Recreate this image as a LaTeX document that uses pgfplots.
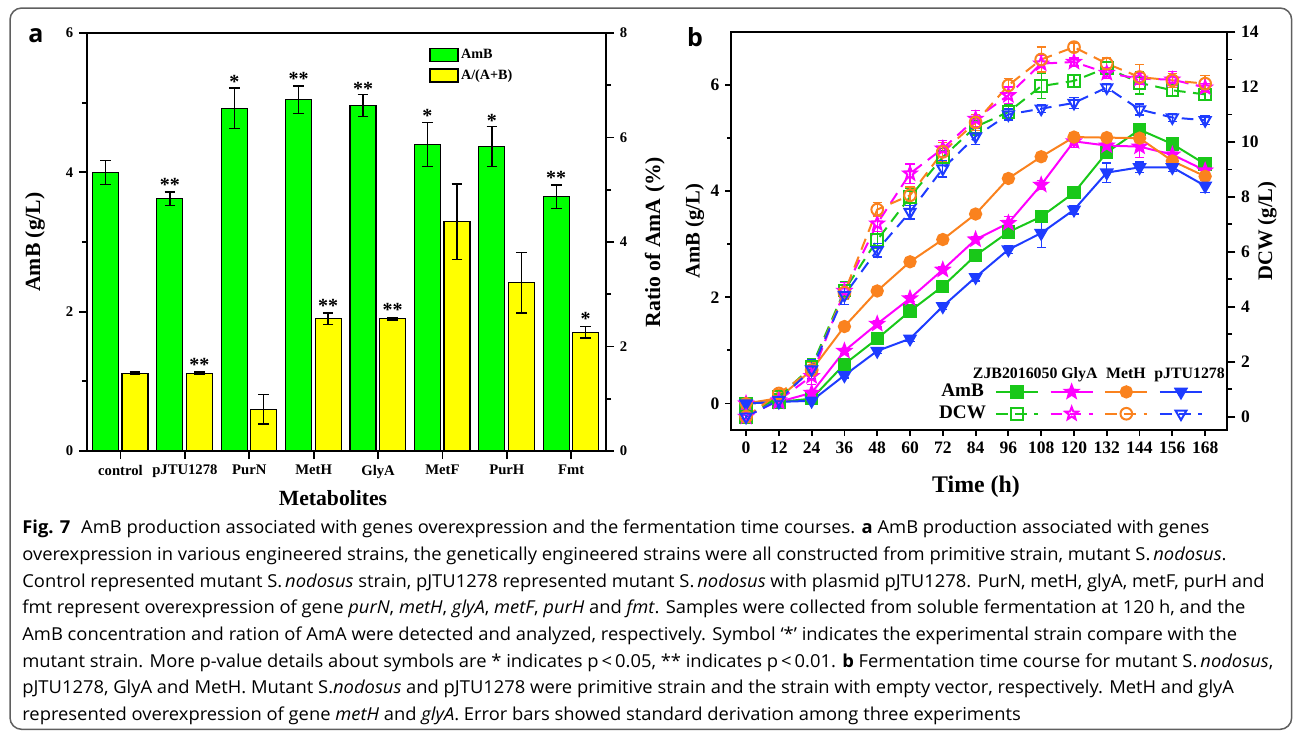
\documentclass[border=0pt]{standalone}
\usepackage{fontspec}
\setmainfont{Liberation Serif}
\newfontfamily\capfont[FakeStretch=1.03]{Open Sans}
\newfontfamily\lblfont{Open Sans}
\usepackage{pgfplots}
\pgfplotsset{compat=1.18}
\usetikzlibrary{plotmarks}

\definecolor{barG}{RGB}{0,255,0}
\definecolor{barY}{RGB}{255,255,0}
\definecolor{cG}{RGB}{25,200,25}
\definecolor{cM}{RGB}{255,0,255}
\definecolor{cO}{RGB}{250,130,30}
\definecolor{cB}{RGB}{30,60,255}
\definecolor{frameC}{RGB}{95,95,95}

\newcommand{\fsz}[1]{\fontsize{#1}{#1}\selectfont}
\newcommand{\Sn}{S.\,\textit{nodosus}}

% filled and open five-pointed stars
\pgfdeclareplotmark{fstar}{%
  \pgfpathmoveto{\pgfqpointpolar{90}{\pgfplotmarksize}}%
  \pgfpathlineto{\pgfqpointpolar{126}{0.42\pgfplotmarksize}}%
  \pgfpathlineto{\pgfqpointpolar{162}{\pgfplotmarksize}}%
  \pgfpathlineto{\pgfqpointpolar{198}{0.42\pgfplotmarksize}}%
  \pgfpathlineto{\pgfqpointpolar{234}{\pgfplotmarksize}}%
  \pgfpathlineto{\pgfqpointpolar{270}{0.42\pgfplotmarksize}}%
  \pgfpathlineto{\pgfqpointpolar{306}{\pgfplotmarksize}}%
  \pgfpathlineto{\pgfqpointpolar{342}{0.42\pgfplotmarksize}}%
  \pgfpathlineto{\pgfqpointpolar{18}{\pgfplotmarksize}}%
  \pgfpathlineto{\pgfqpointpolar{54}{0.42\pgfplotmarksize}}%
  \pgfpathclose\pgfusepathqfillstroke}
\pgfdeclareplotmark{ostar}{%
  \pgfpathmoveto{\pgfqpointpolar{90}{\pgfplotmarksize}}%
  \pgfpathlineto{\pgfqpointpolar{126}{0.42\pgfplotmarksize}}%
  \pgfpathlineto{\pgfqpointpolar{162}{\pgfplotmarksize}}%
  \pgfpathlineto{\pgfqpointpolar{198}{0.42\pgfplotmarksize}}%
  \pgfpathlineto{\pgfqpointpolar{234}{\pgfplotmarksize}}%
  \pgfpathlineto{\pgfqpointpolar{270}{0.42\pgfplotmarksize}}%
  \pgfpathlineto{\pgfqpointpolar{306}{\pgfplotmarksize}}%
  \pgfpathlineto{\pgfqpointpolar{342}{0.42\pgfplotmarksize}}%
  \pgfpathlineto{\pgfqpointpolar{18}{\pgfplotmarksize}}%
  \pgfpathlineto{\pgfqpointpolar{54}{0.42\pgfplotmarksize}}%
  \pgfpathclose\pgfusepathqstroke}

\pgfplotsset{
  panelA/.style={at={(52.2pt,-270.6pt)}, anchor=south west, scale only axis,
    width=311.4pt, height=250.8pt, xmin=-0.52, xmax=7.54,
    tick align=outside, axis line style={line width=1.3pt},
    every tick/.style={black, line width=1.1pt},
    major tick length=4.8pt, minor tick length=3pt,
    tick label style={font=\bfseries\fsz{8.8}},
    /pgf/number format/assume math mode=true,
    label style={font=\bfseries\fsz{13}}},
  panelB/.style={at={(438.6pt,-258pt)}, anchor=south west, scale only axis,
    width=297.6pt, height=238.8pt, xmin=-5.5, xmax=176,
    tick align=outside, axis line style={line width=1.4pt},
    every tick/.style={black, line width=1.1pt},
    tick label style={font=\bfseries\fsz{10.5}},
    /pgf/number format/assume math mode=true,
    label style={font=\bfseries\fsz{12.4}}},
  gbar/.style={ybar, bar width=0.404, draw=black, line width=0.7pt,
    error bars/y dir=both, error bars/y explicit,
    error bars/error bar style={black, line width=0.8pt},
    error bars/error mark options={black, rotate=90, mark size=3.2pt, line width=0.8pt}},
  stars/.style={draw=none, mark=none, nodes near coords, point meta=explicit symbolic,
    nodes near coords style={anchor=base, inner sep=0pt, font=\bfseries\fsz{12}}},
  amb/.style={#1, solid, line width=1.2pt, mark options={solid}, mark size=3.4pt,
    error bars/y dir=both, error bars/y explicit,
    error bars/error bar style={#1, solid, line width=0.8pt},
    error bars/error mark options={#1, rotate=90, mark size=2.8pt, line width=0.8pt}},
  dcw/.style={#1, line width=1.2pt, dash pattern=on 7pt off 4.5pt,
    mark options={solid, fill=none}, mark size=3.5pt,
    error bars/y dir=both, error bars/y explicit,
    error bars/error bar style={#1, solid, line width=0.8pt},
    error bars/error mark options={#1, rotate=90, mark size=2.8pt, line width=0.8pt}},
}

\begin{document}
\begin{tikzpicture}
\useasboundingbox (0,0) rectangle (775.8pt,-439.2pt);
\draw[frameC, line width=0.9pt, rounded corners=7pt] (6pt,-4.8pt) rectangle (775pt,-437.6pt);

\node[font=\lblfont\bfseries\fsz{15}, inner sep=0pt] at (21.6pt,-21.3pt) {a};
\node[font=\lblfont\bfseries\fsz{15}, inner sep=0pt] at (417pt,-22.5pt) {b};

% ---------------- panel a, left axis: AmB ----------------
\begin{axis}[panelA, ymin=0, ymax=6,
  xtick={0,...,7}, xticklabels={control,pJTU1278,PurN,MetH,GlyA,MetF,PurH,Fmt},
  ytick={0,2,4,6}, minor ytick={1,3,5},
  xtick pos=bottom, ytick pos=left,
  ylabel={AmB (g/L)}, ylabel style={at={(axis description cs:-0.10,0.5)}, anchor=center},
  xlabel={Metabolites}, xlabel style={at={(axis description cs:0.474,-0.112)}, anchor=center}]
\addplot[gbar, fill=barG] coordinates {
  (-0.233,4.00) +- (0,0.17)
  (0.767,3.62) +- (0,0.10)
  (1.767,4.92) +- (0,0.29)
  (2.767,5.04) +- (0,0.20)
  (3.767,4.96) +- (0,0.16)
  (4.767,4.40) +- (0,0.32)
  (5.767,4.37) +- (0,0.29)
  (6.767,3.65) +- (0,0.17)
};
\addplot[stars] coordinates {
  (0.767,3.72) [**] (1.767,5.21) [*] (2.767,5.24) [**] (3.767,5.11) [**]
  (4.767,4.71) [*] (5.767,4.65) [*] (6.767,3.82) [**]
};
\end{axis}

% ---------------- panel a, right axis: ratio ----------------
\begin{axis}[panelA, ymin=0, ymax=8,
  axis y line*=right, axis x line=none,
  ytick={0,2,4,6,8}, minor ytick={1,3,5,7},
  ylabel={Ratio of AmA (\%)}, ylabel style={at={(axis description cs:1.094,0.5)}, anchor=center},
  legend image code/.code={\draw[#1, line width=0.7pt] (0pt,-3.9pt) rectangle (16.8pt,3.9pt);},
  legend style={at={(0.659,0.968)}, anchor=north west, draw=none, fill=none,
    font=\bfseries\fsz{8.5}, row sep=2pt, inner sep=0pt, nodes={inner sep=1.5pt}},
  legend cell align=left, legend entries={AmB,A/(A+B)}]
\addlegendimage{fill=barG, draw=black}
\addplot[gbar, fill=barY] coordinates {
  (0.225,1.49) +- (0,0.02)
  (1.225,1.49) +- (0,0.02)
  (2.225,0.80) +- (0,0.28)
  (3.225,2.53) +- (0,0.11)
  (4.225,2.53) +- (0,0.02)
  (5.225,4.39) +- (0,0.72)
  (6.225,3.22) +- (0,0.58)
  (7.225,2.27) +- (0,0.11)
};
\addplot[stars, forget plot] coordinates {
  (1.225,1.53) [**] (3.225,2.66) [**] (4.225,2.57) [**] (7.225,2.40) [*]
};
\end{axis}

% ---------------- panel b, left axis: AmB ----------------
\begin{axis}[panelB, ymin=-0.5, ymax=7,
  xtick={0,12,...,168}, ytick={0,2,4,6}, minor ytick={1,3,5},
  xtick pos=bottom, ytick pos=left,
  major tick length=3.4pt, minor tick length=2.2pt,
  ylabel={AmB (g/L)}, ylabel style={at={(axis description cs:-0.073,0.5)}, anchor=center},
  xlabel={Time (h)}, xlabel style={at={(axis description cs:0.494,-0.143)}, anchor=center, font=\bfseries\fsz{14.3}}]
\addplot[amb=cG, mark=square*] table[x=t, y=v, y error=e] {
t v e
0 0 0.02
12 0.03 0.03
24 0.09 0.03
36 0.74 0.05
48 1.22 0.05
60 1.74 0.05
72 2.21 0.05
84 2.79 0.06
96 3.23 0.06
108 3.52 0.08
120 3.97 0.06
132 4.73 0.08
144 5.16 0.07
156 4.89 0.05
168 4.51 0.06
};
\addplot[amb=cM, mark=fstar, mark size=4pt] table[x=t, y=v, y error=e] {
t v e
0 0 0.02
12 0.03 0.03
24 0.20 0.04
36 0.99 0.05
48 1.50 0.06
60 1.98 0.06
72 2.52 0.06
84 3.09 0.06
96 3.40 0.12
108 4.12 0.08
120 4.94 0.12
132 4.86 0.10
144 4.84 0.20
156 4.69 0.10
168 4.39 0.08
};
\addplot[amb=cO, mark=*] table[x=t, y=v, y error=e] {
t v e
0 0 0.02
12 0.10 0.03
24 0.63 0.04
36 1.45 0.05
48 2.12 0.05
60 2.67 0.05
72 3.09 0.05
84 3.57 0.05
96 4.24 0.05
108 4.65 0.06
120 5.02 0.08
132 5.01 0.06
144 5.00 0.08
156 4.57 0.08
168 4.28 0.06
};
\addplot[amb=cB, mark=triangle*, mark options={solid, rotate=180}, mark size=3.8pt] table[x=t, y=v, y error=e] {
t v e
0 0 0.02
12 0.03 0.03
24 0.05 0.03
36 0.53 0.05
48 0.99 0.05
60 1.22 0.05
72 1.83 0.06
84 2.38 0.07
96 2.90 0.08
108 3.21 0.27
120 3.65 0.08
132 4.35 0.18
144 4.45 0.10
156 4.45 0.08
168 4.10 0.12
};
\node[anchor=base, font=\bfseries\fsz{9.5}] at (axis cs:98.5,0.48) {ZJB2016050};
\node[anchor=base, font=\bfseries\fsz{9.5}] at (axis cs:122,0.48) {GlyA};
\node[anchor=base, font=\bfseries\fsz{9.5}] at (axis cs:139,0.48) {MetH};
\node[anchor=base, font=\bfseries\fsz{9.5}] at (axis cs:162.3,0.48) {pJTU1278};
\end{axis}

% ---------------- panel b, right axis: DCW ----------------
\begin{axis}[panelB, ymin=-0.48, ymax=14,
  axis y line*=right, axis x line=none,
  ytick={0,2,...,14}, minor ytick={1,3,...,13},
  major tick length=5pt, minor tick length=3pt,
  ylabel={DCW (g/L)}, ylabel style={at={(axis description cs:1.081,0.5)}, anchor=center},
  legend image code/.code={\draw[mark repeat=2, mark phase=2, #1] plot coordinates {(0pt,0pt) (12.6pt,0pt) (25.2pt,0pt)};},
  legend columns=5,
  legend style={at={(0.9556,0.1156)}, anchor=north east, draw=none, fill=none,
    inner sep=0pt, font=\bfseries\fsz{11.5}, row sep=4pt, nodes={inner sep=0pt},
    /tikz/every even column/.style={column sep=5.4pt},
    /tikz/column 2/.style={column sep=1.8pt}},
  legend entries={AmB,\mbox{},\mbox{},\mbox{},\mbox{},DCW,\mbox{},\mbox{},\mbox{},\mbox{}}]
\addlegendimage{empty legend}
\addlegendimage{cG, solid, line width=1.2pt, mark=square*, mark size=3.4pt}
\addlegendimage{cM, solid, line width=1.2pt, mark=fstar, mark size=4pt}
\addlegendimage{cO, solid, line width=1.2pt, mark=*, mark size=3.4pt}
\addlegendimage{cB, solid, line width=1.2pt, mark=triangle*, mark options={rotate=180}, mark size=3.8pt}
\addlegendimage{empty legend}
\addplot[dcw=cG, mark=square] table[x=t, y=v, y error=e] {
t v e
0 0 0.05
12 0.73 0.10
24 1.82 0.30
36 4.60 0.30
48 6.43 0.30
60 8.00 0.30
72 9.45 0.30
84 10.55 0.30
96 11.09 0.25
108 12.03 0.45
120 12.22 0.20
132 12.70 0.20
144 12.15 0.40
156 11.88 0.20
168 11.73 0.20
};
\addplot[dcw=cM, mark=ostar, mark size=4pt] table[x=t, y=v, y error=e] {
t v e
0 0 0.05
12 0.60 0.10
24 1.48 0.30
36 4.58 0.30
48 7.03 0.30
60 8.85 0.35
72 9.76 0.30
84 10.84 0.30
96 11.70 0.30
108 12.85 0.30
120 12.91 0.15
132 12.51 0.20
144 12.30 0.20
156 12.27 0.30
168 11.98 0.15
};
\addplot[dcw=cO, mark=o] table[x=t, y=v, y error=e] {
t v e
0 0 0.05
12 0.85 0.15
24 1.70 0.30
36 4.52 0.25
48 7.54 0.25
60 8.06 0.30
72 9.64 0.35
84 10.71 0.30
96 12.06 0.25
108 13.00 0.45
120 13.45 0.15
132 12.85 0.20
144 12.36 0.45
156 12.24 0.25
168 12.12 0.30
};
\addplot[dcw=cB, mark=triangle, mark options={solid, fill=none, rotate=180}, mark size=3.8pt] table[x=t, y=v, y error=e] {
t v e
0 0 0.05
12 0.61 0.10
24 1.72 0.35
36 4.43 0.35
48 6.06 0.25
60 7.45 0.25
72 9.03 0.30
84 10.20 0.30
96 11.00 0.20
108 11.21 0.15
120 11.42 0.20
132 11.98 0.15
144 11.18 0.20
156 10.89 0.15
168 10.79 0.15
};
\end{axis}

\node[anchor=north west, inner sep=0pt, align=left, font=\capfont\fontsize{10.7}{16}\selectfont] at (13.2pt,-312pt) {%
\textbf{Fig. 7}\hspace{0.6em}AmB production associated with genes overexpression and the fermentation time courses. \textbf{a} AmB production associated with genes\\
overexpression in various engineered strains, the genetically engineered strains were all constructed from primitive strain, mutant \Sn.\\
Control represented mutant \Sn{} strain, pJTU1278 represented mutant \Sn{} with plasmid pJTU1278. PurN, metH, glyA, metF, purH and\\
fmt represent overexpression of gene \textit{purN}, \textit{metH}, \textit{glyA}, \textit{metF}, \textit{purH} and \textit{fmt}. Samples were collected from soluble fermentation at 120 h, and the\\
AmB concentration and ration of AmA were detected and analyzed, respectively. Symbol ‘*’ indicates the experimental strain compare with the\\
mutant strain. More p-value details about symbols are * indicates p\,<\,0.05, ** indicates p\,<\,0.01. \textbf{b} Fermentation time course for mutant \Sn,\\
pJTU1278, GlyA and MetH. Mutant S.\textit{nodosus} and pJTU1278 were primitive strain and the strain with empty vector, respectively. MetH and glyA\\
represented overexpression of gene \textit{metH} and \textit{glyA}. Error bars showed standard derivation among three experiments};
\end{tikzpicture}
\end{document}
